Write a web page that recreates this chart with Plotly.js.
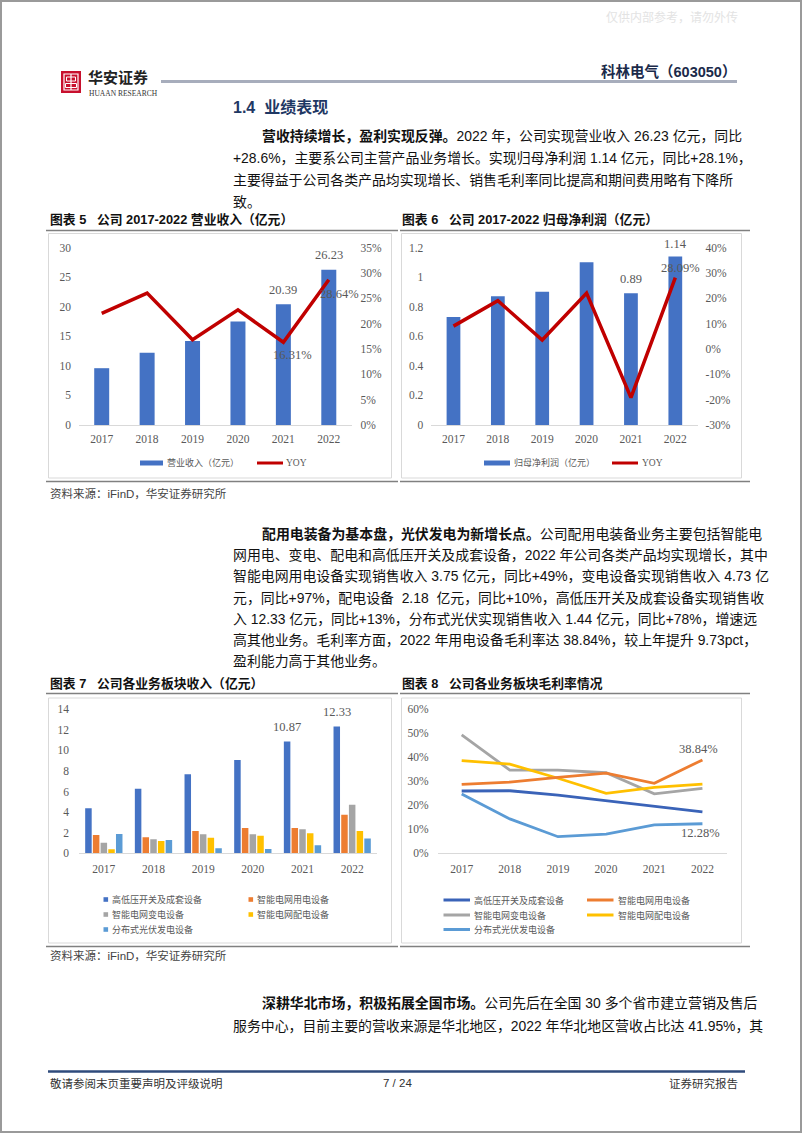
<!DOCTYPE html>
<html><head><meta charset="utf-8">
<script src="https://cdn.plot.ly/plotly-3.0.1.min.js"></script>
<style>html,body{margin:0;padding:0;background:#fff}#chart{width:802px;height:1133px}</style>
</head><body><div id="chart"></div>
<script>
// ---------- data ----------
const years = ['2017','2018','2019','2020','2021','2022'];
const revenue = [9.6, 12.2, 14.2, 17.5, 20.39, 26.23];
const revenueYoy = [0.22, 0.26, 0.168, 0.227, 0.1631, 0.2864];
const netProfit = [0.73, 0.87, 0.90, 1.10, 0.89, 1.14];
const netProfitYoy = [0.09, 0.19, 0.035, 0.22, -0.192, 0.2809];
const segNames = ['高低压开关及成套设备','智能电网用电设备','智能电网变电设备','智能电网配电设备','分布式光伏发电设备'];
const segHighLow = [4.37, 6.28, 7.68, 9.07, 10.87, 12.33];
const segUse = [1.78, 1.55, 2.17, 2.46, 2.46, 3.75];
const segSub = [1.03, 1.36, 1.84, 1.84, 2.33, 4.73];
const segDist = [0.39, 1.20, 1.52, 1.71, 1.94, 2.18];
const segPV = [1.87, 1.29, 0.49, 0.42, 0.78, 1.44];
const gmHighLow = [0.259, 0.260, 0.242, 0.219, 0.194, 0.172];
const gmUse = [0.287, 0.296, 0.316, 0.333, 0.291, 0.3884];
const gmSub = [0.492, 0.346, 0.346, 0.335, 0.247, 0.270];
const gmDist = [0.385, 0.371, 0.312, 0.249, 0.274, 0.288];
const gmPV = [0.247, 0.143, 0.069, 0.080, 0.118, 0.1228];
const revTicks = [0, 5, 10, 15, 20, 25, 30];
const revYoyTicks = [0, 0.05, 0.10, 0.15, 0.20, 0.25, 0.30, 0.35];
const revYoyTickText = ['0%','5%','10%','15%','20%','25%','30%','35%'];
const npTicks = [0, 0.2, 0.4, 0.6, 0.8, 1, 1.2];
const npTickText = ['0','0.2','0.4','0.6','0.8','1','1.2'];
const npYoyTicks = [-0.3, -0.2, -0.1, 0, 0.1, 0.2, 0.3, 0.4];
const npYoyTickText = ['-30%','-20%','-10%','0%','10%','20%','30%','40%'];
const segTicks = [0, 2, 4, 6, 8, 10, 12, 14];
const gmTicks = [0, 0.1, 0.2, 0.3, 0.4, 0.5, 0.6];
const gmTickText = ['0%','10%','20%','30%','40%','50%','60%'];

// ---------- helpers ----------
const W = 802, H = 1133;
const px = x => x / W, py = y => 1 - y / H;
const CJK = 'Liberation Sans, Arial, Noto Sans CJK SC, sans-serif';
const bodyFont = {family: CJK, size: 13.9, color: '#111'};
const tickFont = {family: 'Liberation Serif, Times New Roman, serif', size: 11.5, color: '#595959'};
const lblFont = {family: 'Liberation Serif, Times New Roman, serif', size: 12.5, color: '#595959'};
const legFont = {family: 'Noto Sans CJK SC, sans-serif', size: 9, color: '#595959'};
const C = {blue:'#4472C4', red:'#C00000', orange:'#ED7D31', gray:'#A5A5A5', yellow:'#FFC000', lblue:'#5B9BD5', dblue:'#3A63B8'};

function txt(x, y, text, opt) {
  return Object.assign({xref:'paper', yref:'paper', x:px(x), y:py(y), text:text, showarrow:false,
    xanchor:'left', yanchor:'middle', font:bodyFont, borderpad:0}, opt || {});
}
function rect(x0, y0, x1, y1, opt) {
  return Object.assign({type:'rect', xref:'paper', yref:'paper', x0:px(x0), x1:px(x1), y0:py(y0), y1:py(y1), line:{width:0}}, opt || {});
}
function seg(x0, y0, x1, y1, color, width) {
  return {type:'line', xref:'paper', yref:'paper', x0:px(x0), x1:px(x1), y0:py(y0), y1:py(y1), line:{color:color, width:width}};
}
function xAxis(d0, d1, anchor, standoff) {
  return {domain:[px(d0), px(d1)], anchor:anchor, type:'category', categoryorder:'array', categoryarray:years,
    range:[-0.5, years.length - 0.5], autorange:false, showline:true, linecolor:'#D9D9D9', linewidth:1,
    ticks:'', showgrid:false, zeroline:false, tickfont:tickFont, fixedrange:true, ticklabelstandoff:standoff};
}
function yAxis(bottom, top, range, vals, text, extra) {
  return Object.assign({domain:[py(bottom), py(top)], range:range, autorange:false, tickvals:vals, ticktext:text, showline:false,
    showgrid:false, zeroline:false, ticks:'', tickfont:tickFont, fixedrange:true}, extra || {});
}

// ---------- traces ----------
const traces = [
  {type:'bar', x:years, y:revenue, xaxis:'x', yaxis:'y', width:0.33, marker:{color:C.blue}, hoverinfo:'none'},
  {type:'scatter', mode:'lines', x:years, y:revenueYoy, xaxis:'x', yaxis:'y2', line:{color:C.red, width:3.5}, hoverinfo:'none'},
  {type:'bar', x:years, y:netProfit, xaxis:'x2', yaxis:'y3', width:0.31, marker:{color:C.blue}, hoverinfo:'none'},
  {type:'scatter', mode:'lines', x:years, y:netProfitYoy, xaxis:'x2', yaxis:'y4', line:{color:C.red, width:3.5}, hoverinfo:'none'},
];
const segSeries = [segHighLow, segUse, segSub, segDist, segPV];
const segColors = [C.blue, C.orange, C.gray, C.yellow, C.lblue];
segSeries.forEach((s, i) => traces.push({type:'bar', name:segNames[i], x:years, y:s, xaxis:'x3', yaxis:'y5', marker:{color:segColors[i]}, hoverinfo:'none'}));
const gmSeries = [gmHighLow, gmUse, gmSub, gmDist, gmPV];
const gmColors = [C.dblue, C.orange, C.gray, C.yellow, C.lblue];
[2, 3, 4, 0, 1].forEach(i => traces.push({type:'scatter', mode:'lines', name:segNames[i], x:years, y:gmSeries[i], xaxis:'x4', yaxis:'y6', line:{color:gmColors[i], width:2.8}, hoverinfo:'none'}));

// ---------- annotations ----------
const ann = [];
ann.push(txt(739, 16, '仅供内部参考，请勿外传', {xanchor:'right', font:{family:'Noto Sans CJK SC', size:12, color:'#E3E3E3'}}));
ann.push(txt(737, 71, '<b>科林电气（603050）</b>', {xanchor:'right', font:{family:CJK, size:14.5, color:'#1B2A4A'}}));
ann.push(txt(87, 77, '<b>华安证券</b>', {font:{family:'Noto Sans CJK SC', size:15, color:'#222'}}));
ann.push(txt(88, 93, 'HUAAN RESEARCH', {font:{family:'Liberation Serif', size:7.5, color:'#333'}}));
ann.push(txt(232, 108, '<b>1.4  业绩表现</b>', {font:{family:CJK, size:16, color:'#1F3864'}}));
const p1 = ['<b>营收持续增长，盈利实现反弹。</b>2022 年，公司实现营业收入 26.23 亿元，同比',
  '+28.6%，主要系公司主营产品业务增长。实现归母净利润 1.14 亿元，同比+28.1%，',
  '主要得益于公司各类产品均实现增长、销售毛利率同比提高和期间费用略有下降所',
  '致。'];
p1.forEach((t, i) => ann.push(txt(i === 0 ? 261 : 232, 136 + i * 22, t)));
const titleFont = {family:CJK, size:12.8, color:'#111'};
ann.push(txt(49, 219, '<b>图表 5   公司 2017-2022 营业收入（亿元）</b>', {font:titleFont}));
ann.push(txt(401, 219, '<b>图表 6   公司 2017-2022 归母净利润（亿元）</b>', {font:titleFont}));
ann.push(txt(49, 683, '<b>图表 7   公司各业务板块收入（亿元）</b>', {font:titleFont}));
ann.push(txt(401, 683, '<b>图表 8   公司各业务板块毛利率情况</b>', {font:titleFont}));
const srcFont = {family:CJK, size:11.5, color:'#444'};
ann.push(txt(49, 494, '资料来源：iFinD，华安证券研究所', {font:srcFont}));
ann.push(txt(49, 955, '资料来源：iFinD，华安证券研究所', {font:srcFont}));
const p2 = ['<b>配用电装备为基本盘，光伏发电为新增长点。</b>公司配用电装备业务主要包括智能电',
  '网用电、变电、配电和高低压开关及成套设备，2022 年公司各类产品均实现增长，其中',
  '智能电网用电设备实现销售收入 3.75 亿元，同比+49%，变电设备实现销售收入 4.73 亿',
  '元，同比+97%，配电设备  2.18  亿元，同比+10%，高低压开关及成套设备实现销售收',
  '入 12.33 亿元，同比+13%，分布式光伏实现销售收入 1.44 亿元，同比+78%，增速远',
  '高其他业务。毛利率方面，2022 年用电设备毛利率达 38.84%，较上年提升 9.73pct，',
  '盈利能力高于其他业务。'];
p2.forEach((t, i) => ann.push(txt(i === 0 ? 261 : 232, 534 + i * 21.2, t)));
const p3 = ['<b>深耕华北市场，积极拓展全国市场。</b>公司先后在全国 30 多个省市建立营销及售后',
  '服务中心，目前主要的营收来源是华北地区，2022 年华北地区营收占比达 41.95%，其'];
p3.forEach((t, i) => ann.push(txt(i === 0 ? 261 : 232, 1003 + i * 23, t)));
const footFont = {family:CJK, size:11.5, color:'#333'};
ann.push(txt(49, 1083, '敬请参阅末页重要声明及评级说明', {font:footFont}));
ann.push(txt(397, 1083, '7 / 24', {xanchor:'center', font:footFont}));
ann.push(txt(739, 1083, '证券研究报告', {xanchor:'right', font:footFont}));

ann.push(txt(166, 463, '营业收入（亿元）', {font:legFont}));
ann.push(txt(285, 463, 'YOY', {font:{family:'Liberation Serif', size:9.5, color:'#595959'}}));
ann.push(txt(513, 463, '归母净利润（亿元）', {font:legFont}));
ann.push(txt(641, 463, 'YOY', {font:{family:'Liberation Serif', size:9.5, color:'#595959'}}));
const legRows7 = [899.5, 914.5, 929.5];
segNames.forEach((n, i) => {
  const col = i % 2, row = Math.floor(i / 2);
  ann.push(txt(col ? 256 : 111, legRows7[row], n, {font:legFont}));
});
const legRows8 = [900, 915, 929.5];
segNames.forEach((n, i) => {
  const col = i % 2, row = Math.floor(i / 2);
  ann.push(txt(col ? 617 : 473, legRows8[row], n, {font:legFont}));
});

// data labels: x given as category index of the labelled year
function dl(xa, ya, i, y, text, xs, ys) {
  return {xref:xa, yref:ya, x:i, y:y, text:text, showarrow:false, xanchor:'center', yanchor:'middle', xshift:xs, yshift:ys, font:lblFont};
}
const pct = v => (v * 100).toFixed(2) + '%';
ann.push(dl('x', 'y', 4, revenue[4], revenue[4].toFixed(2), 0, 14.5));
ann.push(dl('x', 'y', 5, revenue[5], revenue[5].toFixed(2), 0, 14.5));
ann.push(dl('x', 'y2', 4, revenueYoy[4], pct(revenueYoy[4]), 9, -12.7));
ann.push(dl('x', 'y2', 5, revenueYoy[5], pct(revenueYoy[5]), 11, -14.5));
ann.push(dl('x2', 'y3', 4, netProfit[4], netProfit[4].toFixed(2), 0, 14.4));
ann.push(dl('x2', 'y3', 5, netProfit[5], netProfit[5].toFixed(2), 0, 12.4));
ann.push(dl('x2', 'y4', 5, netProfitYoy[5], pct(netProfitYoy[5]), 5, 10));
ann.push(dl('x3', 'y5', 4, segHighLow[4], segHighLow[4].toFixed(2), -15.5, 14.7));
ann.push(dl('x3', 'y5', 5, segHighLow[5], segHighLow[5].toFixed(2), -15.5, 14.4));
ann.push(dl('x4', 'y6', 5, gmUse[5], pct(gmUse[5]), -4, 11));
ann.push(dl('x4', 'y6', 5, gmPV[5], pct(gmPV[5]), -2, -9));

// ---------- shapes ----------
const shapes = [];
shapes.push(rect(1, 1, 801, 1132, {line:{color:'#9A9A9A', width:2}}));
shapes.push(rect(61, 71, 81, 93, {fillcolor:'#C8102E'}));
shapes.push(rect(64, 74, 78, 90, {line:{color:'#fff', width:1.2}}));
shapes.push(seg(71, 74, 71, 90, '#fff', 1.2));
shapes.push(rect(66.5, 77, 75.5, 81, {line:{color:'#fff', width:1}}));
shapes.push(rect(65.5, 83.5, 76.5, 87.5, {line:{color:'#fff', width:1}}));
shapes.push(seg(161, 81.5, 737, 81.5, '#A7ADBC', 3));
const rule = '#808080';
shapes.push(seg(46, 230.5, 398, 230.5, rule, 1.5));
shapes.push(seg(400, 230.5, 750, 230.5, rule, 1.5));
shapes.push(seg(46, 481.5, 398, 481.5, rule, 1.5));
shapes.push(seg(400, 481.5, 750, 481.5, rule, 1.5));
shapes.push(rect(48.5, 233.5, 391.5, 478, {line:{color:'#D9D9D9', width:1}}));
shapes.push(rect(401.5, 233.5, 741.5, 478, {line:{color:'#D9D9D9', width:1}}));
shapes.push(seg(46, 693.5, 398, 693.5, rule, 1.5));
shapes.push(seg(400, 693.5, 750, 693.5, rule, 1.5));
shapes.push(seg(46, 946.5, 398, 946.5, rule, 1.5));
shapes.push(seg(400, 946.5, 750, 946.5, rule, 1.5));
shapes.push(rect(48.5, 698, 391.5, 943, {line:{color:'#D9D9D9', width:1}}));
shapes.push(rect(401.5, 698, 741.5, 943, {line:{color:'#D9D9D9', width:1}}));
shapes.push(rect(140, 460.5, 163, 465.5, {fillcolor:C.blue}));
shapes.push(seg(257, 463, 283, 463, C.red, 3));
shapes.push(rect(484, 460.5, 510, 465.5, {fillcolor:C.blue}));
shapes.push(seg(612, 463, 638, 463, C.red, 3));
segColors.forEach((c, i) => {
  const col = i % 2, row = Math.floor(i / 2);
  const x0 = col ? 248.5 : 103.5;
  shapes.push(rect(x0, legRows7[row] - 2.3, x0 + 4.6, legRows7[row] + 2.3, {fillcolor:c}));
});
gmColors.forEach((c, i) => {
  const col = i % 2, row = Math.floor(i / 2);
  const x0 = col ? 587 : 443.5;
  shapes.push(seg(x0, legRows8[row], x0 + 26.5, legRows8[row], c, 3));
});
shapes.push(seg(48, 1071.5, 745, 1071.5, '#2F4B7C', 2.5));

// ---------- layout ----------
const layout = {
  width: W, height: H, autosize: false,
  margin: {l:0, r:0, t:0, b:0, pad:0},
  paper_bgcolor: '#fff', plot_bgcolor: 'rgba(0,0,0,0)',
  showlegend: false, barmode: 'group', bargap: 0.225, bargroupgap: 0.155,
  xaxis: xAxis(79, 351.5, 'y', 3),
  yaxis: yAxis(425, 247.5, [0, 30], revTicks, revTicks.map(String), {ticklabelstandoff: 7}),
  yaxis2: yAxis(425, 247.5, [0, 0.35], revYoyTicks, revYoyTickText, {overlaying:'y', side:'right', anchor:'x', ticklabelstandoff: 8}),
  xaxis2: xAxis(431.3, 697.5, 'y3', 3),
  yaxis3: yAxis(425, 247.5, [0, 1.2], npTicks, npTickText, {anchor:'x2', ticklabelstandoff: 7}),
  yaxis4: yAxis(425, 247.5, [-0.3, 0.4], npYoyTicks, npYoyTickText, {overlaying:'y3', side:'right', anchor:'x2', ticklabelstandoff: 7}),
  xaxis3: xAxis(79, 377, 'y5', 5),
  yaxis5: yAxis(853.3, 709.3, [0, 14], segTicks, segTicks.map(String), {anchor:'x3', ticklabelstandoff: 9}),
  xaxis4: xAxis(437.6, 726.5, 'y6', 5),
  yaxis6: yAxis(853.3, 709, [0, 0.6], gmTicks, gmTickText, {anchor:'x4', ticklabelstandoff: 8}),
  annotations: ann,
  shapes: shapes
};
Plotly.newPlot('chart', traces, layout, {displayModeBar:false, staticPlot:true});
</script></body></html>
